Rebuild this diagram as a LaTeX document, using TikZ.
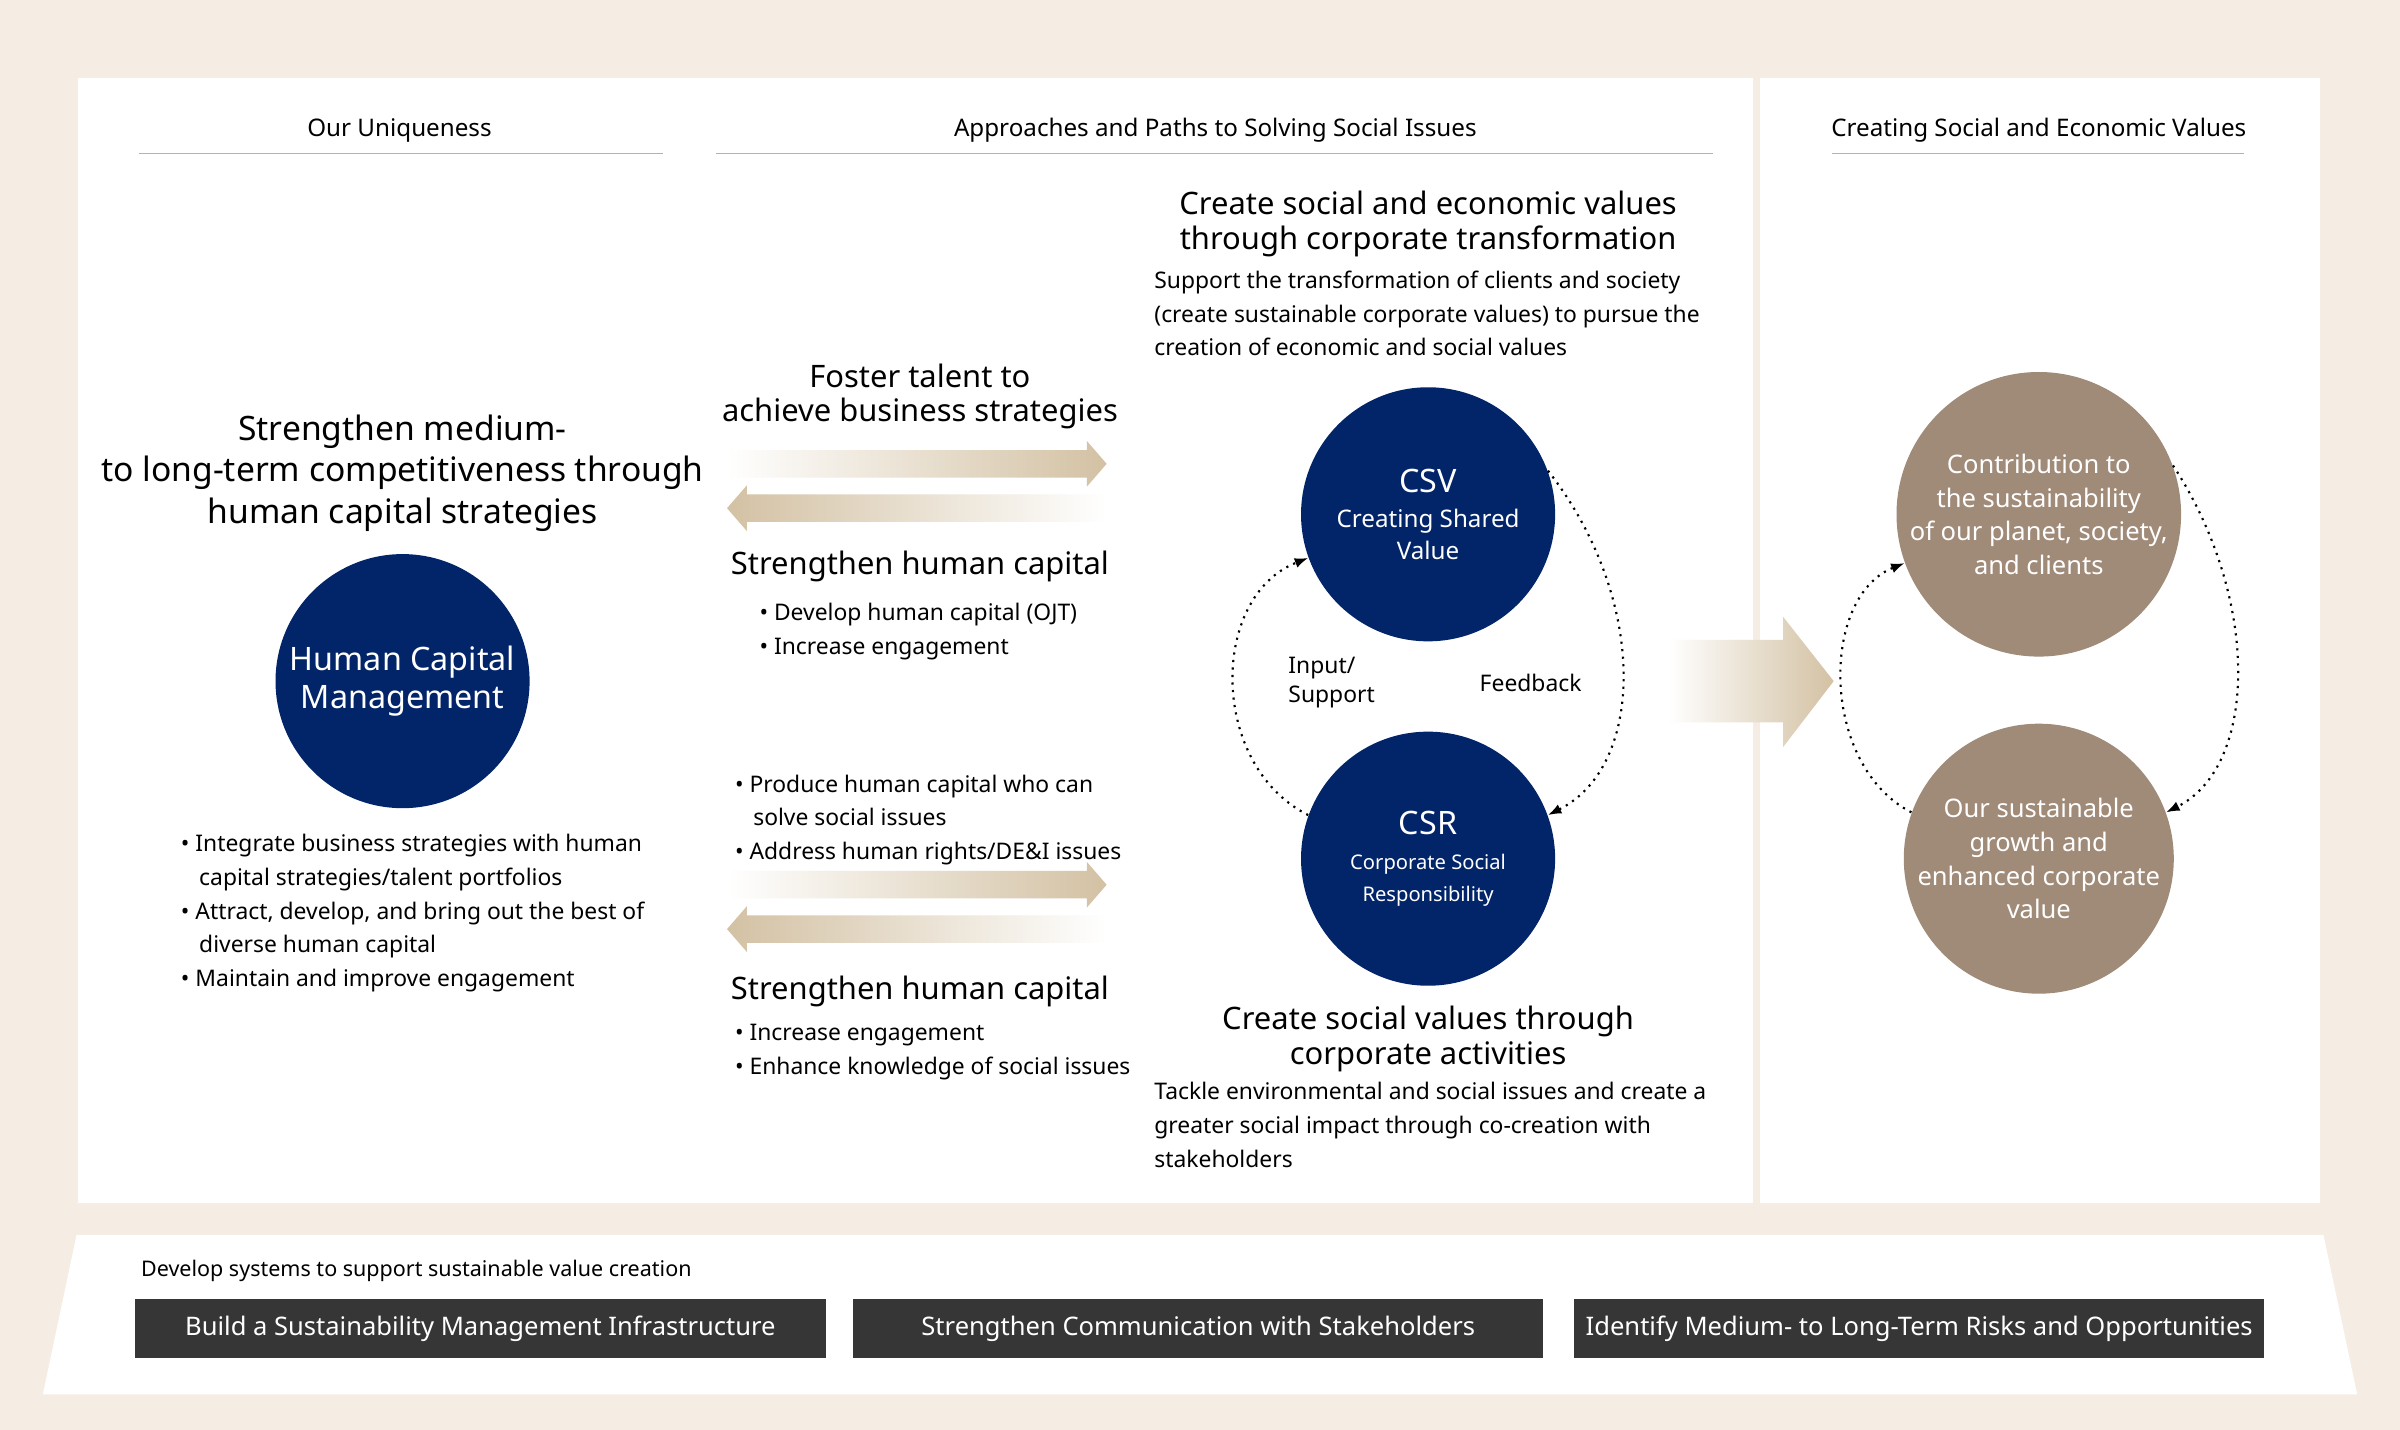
\documentclass[tikz,border=0pt]{standalone}
\usepackage{fontspec}
\setmainfont{Noto Sans}
\usetikzlibrary{positioning,arrows.meta}
\definecolor{paper}{HTML}{F5EDE4}
\definecolor{navy}{HTML}{022469}
\definecolor{taupe}{HTML}{A08A78}
\definecolor{sand}{HTML}{D3C1A3}
\definecolor{slab}{HTML}{363636}
\begin{document}
\begin{tikzpicture}[
      x=0.02cm, y=-0.02cm,
      head/.style={font=\fontsize{9}{11}\selectfont},
      title/.style={font=\fontsize{11.5}{13}\selectfont, align=center},
      body/.style={font=\fontsize{8.5}{12.5}\selectfont, align=left, anchor=north west},
      ball/.style={circle, fill=navy, minimum size=166*0.02cm, text=white, align=center, inner sep=0pt},
      tball/.style={ball, fill=taupe, font=\fontsize{9.5}{12.5}\selectfont},
      loop/.style={thick, dotted, -{Latex[length=5pt]}},
      bar/.style={fill=slab, text=white, minimum width=451*0.02cm, minimum height=39*0.02cm, font=\fontsize{9.5}{11}\selectfont, anchor=north west}
    ]
    % Background and panels.
    \fill[paper] (0,0) rectangle (1568,934);
    \fill[white] (51,51) rectangle (1145,786);
    \fill[white] (1150,51) rectangle (1516,786);
    \fill[white] (50,807) -- (1518,807) -- (1540,911) -- (28,911) -- cycle;
    % Column heads.
    \node[head] (h1) at (261,85) {Our Uniqueness};
    \node[head] (h2) at (794,85) {Approaches and Paths to Solving Social Issues};
    \node[head] (h3) at (1332,85) {Creating Social and Economic Values};
    \draw[gray!60] (91,100) -- (433,100) (468,100) -- (1119,100) (1197,100) -- (1466,100);
    % Left column.
    \node[title, font=\fontsize{12.5}{15.5}\selectfont] (goal) at (263,309) {Strengthen medium-\\to long-term competitiveness through\\human capital strategies};
    \node[ball, font=\fontsize{12}{14}\selectfont] (hcm) at (263,445) {Human Capital\\Management};
    \node[body] (hcmlist) at (112,539) {\textbullet\ Integrate business strategies with human\\
      \hspace*{0.8em}capital strategies/talent portfolios\\
      \textbullet\ Attract, develop, and bring out the best of\\
      \hspace*{0.8em}diverse human capital\\
      \textbullet\ Maintain and improve engagement};
    % Middle arrows.
    \foreach \y in {303,578} {
      \shade[left color=white, right color=sand] (475,\y-9) -- (710,\y-9) -- (710,\y-15) -- (723,\y) -- (710,\y+15) -- (710,\y+9) -- (475,\y+9) -- cycle;
      \shade[left color=sand, right color=white] (723,\y+20) -- (488,\y+20) -- (488,\y+14) -- (475,\y+29) -- (488,\y+44) -- (488,\y+38) -- (723,\y+38) -- cycle;
    }
    \node[title] (foster) at (601,259) {Foster talent to\\achieve business strategies};
    \node[title] (hc1) at (601,370) {Strengthen human capital};
    \node[body] (hc1list) at (490,388) {\textbullet\ Develop human capital (OJT)\\\textbullet\ Increase engagement};
    \node[body] (solve) at (474,500) {\textbullet\ Produce human capital who can\\
      \hspace*{0.8em}solve social issues\\\textbullet\ Address human rights/DE\&I issues};
    \node[title] (hc2) at (601,648) {Strengthen human capital};
    \node[body] (hc2list) at (474,663) {\textbullet\ Increase engagement\\\textbullet\ Enhance knowledge of social issues};
    % CSV / CSR cycle.
    \node[title] (csvtitle) at (933,146) {Create social and economic values\\through corporate transformation};
    \node[body] (csvtext) at (748,171) {Support the transformation of clients and society\\(create sustainable corporate values) to pursue the\\creation of economic and social values};
    \node[ball] (csv) at (933,336) {{\fontsize{12}{14}\selectfont CSV}\\[1pt]{\fontsize{9}{8}\selectfont Creating Shared}\\{\fontsize{9}{8}\selectfont Value}};
    \node[ball] (csr) at (933,561) {{\fontsize{12}{14}\selectfont CSR}\\[1pt]{\fontsize{7.5}{7}\selectfont Corporate Social}\\{\fontsize{7.5}{7}\selectfont Responsibility}};
    \draw[loop] (csr.160) .. controls (790,500) and (790,390) .. (csv.200);
    \draw[loop] (csv.20) .. controls (1076,390) and (1076,500) .. (csr.20);
    \node[font=\fontsize{8.5}{11}\selectfont, align=left] (input) at (870,446) {Input/\\Support};
    \node[font=\fontsize{8.5}{11}\selectfont] (feedback) at (1000,446) {Feedback};
    \node[title] (csrtitle) at (933,679) {Create social values through\\corporate activities};
    \node[body] (csrtext) at (748,701) {Tackle environmental and social issues and create a\\greater social impact through co-creation with\\stakeholders};
    % Big arrow to values.
    \shade[left color=white, right color=sand] (1090,418) -- (1165,418) -- (1165,403) -- (1198,445) -- (1165,488) -- (1165,472) -- (1090,472) -- cycle;
    % Right column.
    \node[tball] (planet) at (1332,336) {Contribution to\\the sustainability\\of our planet, society,\\and clients};
    \node[tball] (growth) at (1332,561) {Our sustainable\\growth and\\enhanced corporate\\value};
    \draw[loop] (growth.160) .. controls (1189,500) and (1189,390) .. (planet.200);
    \draw[loop] (planet.20) .. controls (1476,390) and (1476,500) .. (growth.20);
    % Bottom foundation.
    \node[font=\fontsize{8}{10}\selectfont, anchor=west] (found) at (86,830) {Develop systems to support sustainable value creation};
    \node[bar] (b1) at (88,848) {Build a Sustainability Management Infrastructure};
    \node[bar] (b2) at (557,848) {Strengthen Communication with Stakeholders};
    \node[bar] (b3) at (1028,848) {Identify Medium- to Long-Term Risks and Opportunities};
\end{tikzpicture}
\end{document}
